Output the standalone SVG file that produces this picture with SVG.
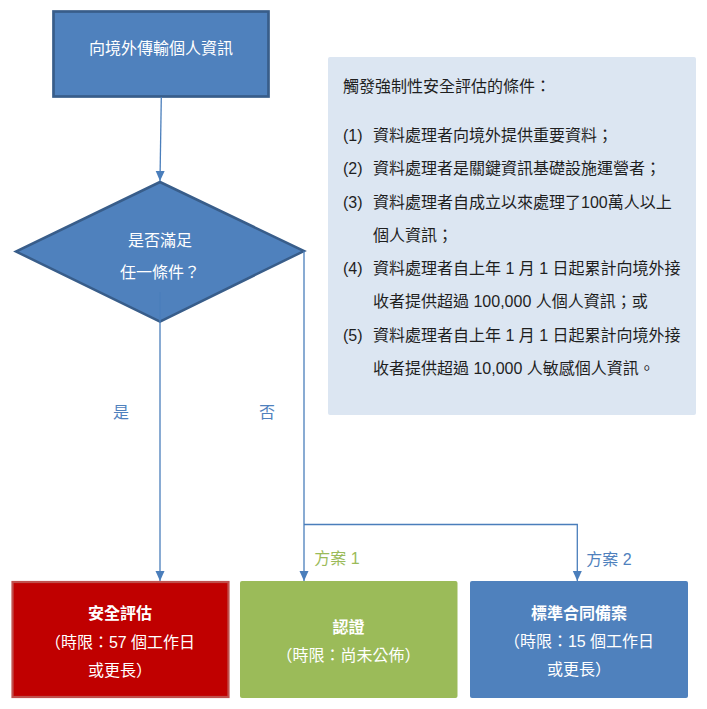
<svg xmlns="http://www.w3.org/2000/svg" width="707" height="709" viewBox="0 0 707 709">
<defs>
<marker id="arr" markerUnits="userSpaceOnUse" markerWidth="10" markerHeight="10" viewBox="0 0 10 10" refX="10" refY="5" orient="auto">
<path d="M0,0.5 L10,5 L0,9.5 Z" fill="#4A7EBB"/>
</marker>
<style>
text{font-family:"Liberation Sans","Noto Sans CJK TC",sans-serif;font-size:16px;text-spacing-trim:space-all}
.w{fill:#FFFFFF;text-anchor:middle}
.b{font-weight:bold}
.p{fill:#1F1F1F}
.conn{stroke:#4A7EBB;stroke-width:1.3;fill:none}
.lb{fill:#4F81BD;text-anchor:middle}
.lg{fill:#9BBB59;text-anchor:middle}
</style>
</defs>
<rect width="707" height="709" fill="#FFFFFF"/>
<g id="panel">
<rect x="328" y="57" width="368" height="358" rx="2" fill="#DCE6F2"/>
<text class="p" x="343" y="92">觸發強制性安全評估的條件：</text>
<text class="p" x="343" y="141">(1)</text>
<text class="p" x="373" y="141">資料處理者向境外提供重要資料；</text>
<text class="p" x="343" y="174">(2)</text>
<text class="p" x="373" y="174">資料處理者是關鍵資訊基礎設施運營者；</text>
<text class="p" x="343" y="208">(3)</text>
<text class="p" x="373" y="208">資料處理者自成立以來處理了100萬人以上</text>
<text class="p" x="373" y="241">個人資訊；</text>
<text class="p" x="343" y="274">(4)</text>
<text class="p" x="373" y="274">資料處理者自上年 1 月 1 日起累計向境外接</text>
<text class="p" x="373" y="307">收者提供超過 100,000 人個人資訊；或</text>
<text class="p" x="343" y="341">(5)</text>
<text class="p" x="373" y="341">資料處理者自上年 1 月 1 日起累計向境外接</text>
<text class="p" x="373" y="374">收者提供超過 10,000 人敏感個人資訊。</text>
</g>
<g id="start">
<rect x="53.5" y="11.5" width="215" height="85" fill="#4F81BD" stroke="#385D8A" stroke-width="2.7"/>
<text class="w" x="161" y="54">向境外傳輸個人資訊</text>
</g>
<g id="decision">
<polygon points="160,182 16,251.5 160,321.5 304,251" fill="#4F81BD" stroke="#385D8A" stroke-width="2.5" stroke-linejoin="miter"/>
<text class="w" x="160" y="246">是否滿足</text>
<text class="w" x="160" y="278">任一條件？</text>
</g>
<g id="connectors">
<line class="conn" x1="161.3" y1="97" x2="160" y2="181" marker-end="url(#arr)"/>
<line class="conn" x1="160" y1="292" x2="160" y2="581" marker-end="url(#arr)"/>
<polyline class="conn" points="304,251 304,581" marker-end="url(#arr)"/>
<polyline class="conn" points="304,524.5 577.3,524.5 577.3,581" marker-end="url(#arr)"/>
<text class="lb" x="121" y="418">是</text>
<text class="lb" x="267" y="418">否</text>
<text class="lg" x="337" y="564">方案 1</text>
<text class="lb" x="609" y="565">方案 2</text>
</g>
<g id="security">
<rect x="12.5" y="582" width="216" height="115" fill="#C00000" stroke="#C0504D" stroke-width="2.2"/>
<text class="w b" x="120" y="619">安全評估</text>
<text class="w" x="120" y="648">（時限：57 個工作日</text>
<text class="w" x="120" y="676">或更長）</text>
</g>
<g id="cert">
<rect x="240" y="581" width="217.5" height="117" rx="2" fill="#9BBB59"/>
<text class="w b" x="348.5" y="633">認證</text>
<text class="w" x="348.5" y="661">（時限：尚未公佈）</text>
</g>
<g id="contract">
<rect x="470" y="581" width="218" height="117" rx="2" fill="#4F81BD"/>
<text class="w b" x="579" y="619">標準合同備案</text>
<text class="w" x="579" y="647">（時限：15 個工作日</text>
<text class="w" x="579" y="675">或更長）</text>
</g>
</svg>
